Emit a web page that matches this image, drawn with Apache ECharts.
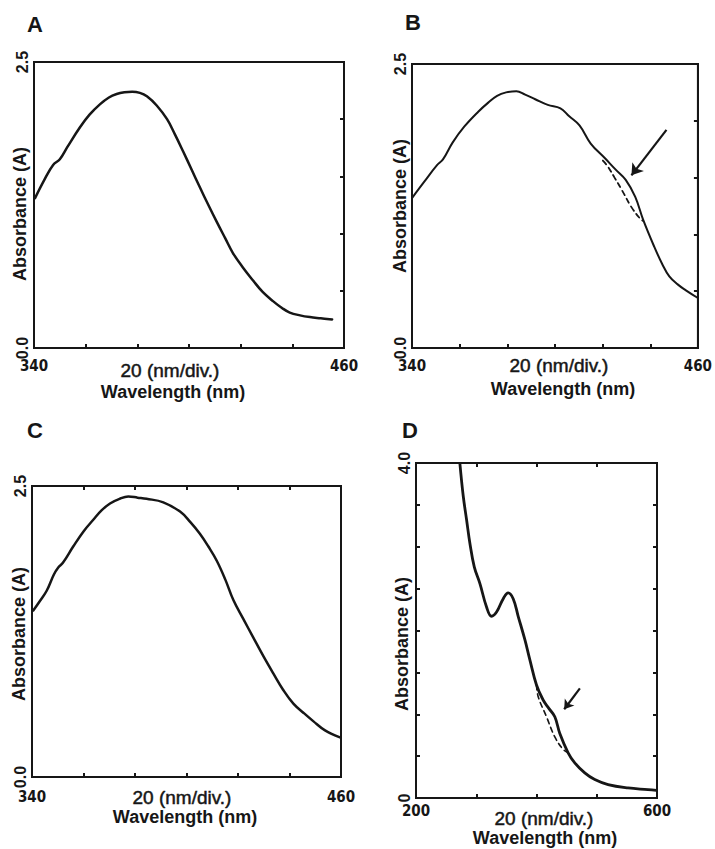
<!DOCTYPE html>
<html>
<head>
<meta charset="utf-8">
<script src="https://cdn.jsdelivr.net/npm/echarts@6/dist/echarts.min.js"></script>
<style>
html,body{margin:0;padding:0;background:#fff;}
#chart{width:715px;height:849px;}
</style>
</head>
<body>
<div id="chart"></div>
<script>
// ---------- DATA ----------
const panelLetters = ['A', 'B', 'C', 'D'];
const xTickLabelsABC = ['340', '460'];
const xTickLabelsD = ['200', '600'];
const yTickLabelsABC = ['0.0', '2.5'];
const yTickLabelsD = ['0', '4.0'];
const xAxisTitle1 = '20 (nm/div.)';
const xAxisTitle2 = 'Wavelength (nm)';
const yAxisTitle = 'Absorbance (A)';

// Panel A
const wlA  = [340.4, 344, 347.4, 350, 353, 357.8, 361.5, 365.5, 369, 372, 375, 378, 381, 383.7, 387.5, 391.5, 394.5, 397.7, 401, 404.3, 407.5, 410.8, 414, 417, 421, 424.8, 428.5, 432.5, 436, 439, 443, 446.8, 451, 455.4];
const absA = [1.31, 1.47, 1.60, 1.65, 1.76, 1.93, 2.04, 2.13, 2.19, 2.22, 2.235, 2.24, 2.23, 2.20, 2.12, 2.00, 1.87, 1.72, 1.56, 1.40, 1.25, 1.10, 0.96, 0.83, 0.70, 0.59, 0.49, 0.41, 0.35, 0.31, 0.285, 0.27, 0.26, 0.25];

// Panel B (solid trace + dashed trace + arrow)
const wlB  = [340, 345, 350.5, 353, 357.1, 362, 367.8, 372, 375.7, 379.5, 383.8, 387.5, 391.7, 397, 402.3, 406, 410.3, 415, 421, 425.5, 429.7, 433.7, 437, 441.7, 445, 448, 451.5, 454.8, 460];
const absB = [1.32, 1.46, 1.61, 1.66, 1.81, 1.95, 2.08, 2.16, 2.22, 2.25, 2.26, 2.23, 2.19, 2.14, 2.11, 2.04, 1.96, 1.80, 1.67, 1.57, 1.48, 1.33, 1.13, 0.89, 0.74, 0.63, 0.56, 0.51, 0.44];
const wlBDash  = [420.1, 422.1, 425, 428.1, 432.1, 436.1, 437];
const absBDash = [1.65, 1.60, 1.50, 1.39, 1.24, 1.13, 1.12];
const arrowB = [[446.8, 1.92], [432.1, 1.52]];

// Panel C
const wlC  = [340.5, 343, 345.7, 348.5, 350.2, 352, 356, 360, 363.8, 367, 370.3, 374, 377.4, 381, 384.5, 391, 397.5, 401.5, 405.2, 408.5, 411.7, 415, 418.2, 422, 425.9, 429.8, 433.7, 437.5, 441.5, 445.5, 449.2, 453.8, 459.6];
const absC = [1.43, 1.51, 1.60, 1.74, 1.80, 1.84, 1.98, 2.11, 2.21, 2.29, 2.35, 2.39, 2.41, 2.40, 2.39, 2.36, 2.28, 2.19, 2.09, 1.98, 1.86, 1.70, 1.52, 1.36, 1.20, 1.04, 0.89, 0.75, 0.63, 0.55, 0.48, 0.40, 0.34];

// Panel D (solid trace + dashed trace + arrow)
const wlD  = [272.9, 278.5, 284, 289.5, 296.7, 306.1, 317.1, 325.4, 333.7, 344.8, 353, 361.3, 369.6, 380.7, 389, 400, 411, 420.5, 430.4, 438.7, 452.5, 463.5, 480.1, 496.7, 518.8, 551.9, 585, 599];
const absD = [3.99, 3.60, 3.32, 3.04, 2.76, 2.56, 2.28, 2.17, 2.22, 2.38, 2.45, 2.38, 2.17, 1.89, 1.65, 1.35, 1.17, 1.07, 0.97, 0.77, 0.54, 0.42, 0.30, 0.22, 0.16, 0.12, 0.10, 0.09];
const wlDDash  = [400, 402.8, 416.6, 430.4, 444.2, 452.5];
const absDDash = [1.35, 1.21, 0.97, 0.73, 0.58, 0.54];
const arrowD = [[472, 1.31], [446, 1.06]];

// ---------- LAYOUT / STYLE ----------
const INK = '#161616';
const panels = [
  { grid: {left: 34,  top: 62,  width: 310, height: 286}, xMin: 340, xMax: 460, xInt: 20,  yMax: 2.5, yInt: 0.5, xl: xTickLabelsABC, yl: yTickLabelsABC, xMargin: 10, lw: 2.5,
    t1: [170, 370], t2: [173, 392], yt: [20, 214], letter: [35, 24], topTicks: false, rightTicks: true },
  { grid: {left: 412, top: 64,  width: 301, height: 284}, xMin: 340, xMax: 460, xInt: 20,  yMax: 2.5, yInt: 0.5, xl: xTickLabelsABC, yl: yTickLabelsABC, xMargin: 10, lw: 2,
    t1: [559, 365], t2: [563, 389], yt: [400, 206], letter: [413, 22], topTicks: false, rightTicks: true },
  { grid: {left: 32,  top: 486, width: 309, height: 291}, xMin: 340, xMax: 460, xInt: 20,  yMax: 2.5, yInt: 0.5, xl: xTickLabelsABC, yl: yTickLabelsABC, xMargin: 12, lw: 2.5,
    t1: [182, 797], t2: [185, 817], yt: [19, 634], letter: [35, 430], topTicks: true, rightTicks: false },
  { grid: {left: 416, top: 463, width: 241, height: 335}, xMin: 200, xMax: 600, xInt: 100, yMax: 4.0, yInt: 0.5, xl: xTickLabelsD, yl: yTickLabelsD, xMargin: 5, lw: 2.8,
    t1: [544, 818], t2: [545, 838], yt: [402, 644], letter: [410, 430], topTicks: true, rightTicks: true }
];

const grids = [], xAxes = [], yAxes = [], graphics = [];
panels.forEach((p, i) => {
  grids.push(Object.assign({show: true, borderColor: INK, borderWidth: 2, backgroundColor: 'transparent'}, p.grid));
  xAxes.push({
    type: 'value', gridIndex: i, position: 'bottom', min: p.xMin, max: p.xMax, interval: p.xInt,
    axisLine: {show: true, onZero: false, lineStyle: {color: INK, width: 2}},
    axisTick: {show: true, inside: true, length: 4, lineStyle: {color: INK, width: 2}},
    splitLine: {show: false},
    axisLabel: {
      show: true, margin: p.xMargin, color: INK,
      fontFamily: "'Liberation Sans Narrow', 'DejaVu Sans Condensed', 'Liberation Sans', sans-serif", fontWeight: 'bold', fontSize: 15,
      formatter: v => v === p.xMin ? p.xl[0] : (v === p.xMax ? p.xl[1] : '')
    }
  });
  xAxes.push({
    type: 'value', gridIndex: i, position: 'top', min: p.xMin, max: p.xMax, interval: p.xInt,
    axisLine: {show: true, onZero: false, lineStyle: {color: INK, width: 2}},
    axisTick: {show: p.topTicks, inside: true, length: 4, lineStyle: {color: INK, width: 2}},
    axisLabel: {show: false}, splitLine: {show: false}
  });
  yAxes.push({
    type: 'value', gridIndex: i, position: 'left', min: 0, max: p.yMax, interval: p.yInt,
    axisLine: {show: true, onZero: false, lineStyle: {color: INK, width: 2}},
    axisTick: {show: i === 3, inside: true, length: 4, lineStyle: {color: INK, width: 2}},
    splitLine: {show: false},
    axisLabel: {
      show: true, rotate: 90, margin: 4, color: INK,
      fontFamily: "'Liberation Sans', Arial, sans-serif", fontWeight: 'bold', fontSize: 16,
      formatter: v => v === 0 ? p.yl[0] : (Math.abs(v - p.yMax) < 1e-9 ? p.yl[1] : '')
    }
  });
  yAxes.push({
    type: 'value', gridIndex: i, position: 'right', min: 0, max: p.yMax, interval: p.yInt,
    axisLine: {show: true, onZero: false, lineStyle: {color: INK, width: 2}},
    axisTick: {show: p.rightTicks, inside: true, length: 4, lineStyle: {color: INK, width: 2}},
    axisLabel: {show: false}, splitLine: {show: false}
  });

  graphics.push({type: 'text', x: p.letter[0], y: p.letter[1], style: {text: panelLetters[i], font: "bold 22px 'Liberation Sans', Arial, sans-serif", fill: INK, align: 'center', verticalAlign: 'middle'}});
  graphics.push({type: 'text', x: p.t1[0], y: p.t1[1], style: {text: xAxisTitle1, font: "19px 'Liberation Sans', Arial, sans-serif", fill: INK, stroke: INK, lineWidth: 0.5, align: 'center', verticalAlign: 'middle'}});
  graphics.push({type: 'text', x: p.t2[0], y: p.t2[1], style: {text: xAxisTitle2, font: "bold 18px 'Liberation Sans', Arial, sans-serif", fill: INK, align: 'center', verticalAlign: 'middle'}});
  graphics.push({type: 'text', x: p.yt[0], y: p.yt[1], rotation: Math.PI / 2, style: {text: yAxisTitle, font: "bold 18px 'Liberation Sans', Arial, sans-serif", fill: INK, align: 'center', verticalAlign: 'middle'}});
});

const pairs = (xs, ys) => xs.map((x, k) => [x, ys[k]]);
function trace(i, xs, ys, width, dashed) {
  return {
    type: 'line', xAxisIndex: 2 * i, yAxisIndex: 2 * i, data: pairs(xs, ys),
    smooth: 0.4, showSymbol: false, symbol: 'none', clip: true, silent: true,
    lineStyle: {color: INK, width: width, type: dashed ? [5, 4] : 'solid', cap: 'round', join: 'round'},
    z: dashed ? 3 : 4
  };
}
function arrow(i, coords, size) {
  return {
    type: 'lines', coordinateSystem: 'cartesian2d', xAxisIndex: 2 * i, yAxisIndex: 2 * i,
    symbol: ['none', 'arrow'], symbolSize: size, silent: true,
    lineStyle: {color: INK, width: 2.2, opacity: 1, curveness: 0},
    data: [{coords: coords}], z: 5
  };
}

const series = [
  trace(0, wlA, absA, panels[0].lw, false),
  trace(1, wlB, absB, panels[1].lw, false),
  trace(1, wlBDash, absBDash, 1.8, true),
  arrow(1, arrowB, 11),
  trace(2, wlC, absC, panels[2].lw, false),
  trace(3, wlD, absD, panels[3].lw, false),
  trace(3, wlDDash, absDDash, 1.6, true),
  arrow(3, arrowD, 9)
];

const chart = echarts.init(document.getElementById('chart'), null, {renderer: 'svg', width: 715, height: 849});
chart.setOption({
  animation: false,
  backgroundColor: '#ffffff',
  grid: grids, xAxis: xAxes, yAxis: yAxes,
  series: series,
  graphic: graphics
});
</script>
</body>
</html>
